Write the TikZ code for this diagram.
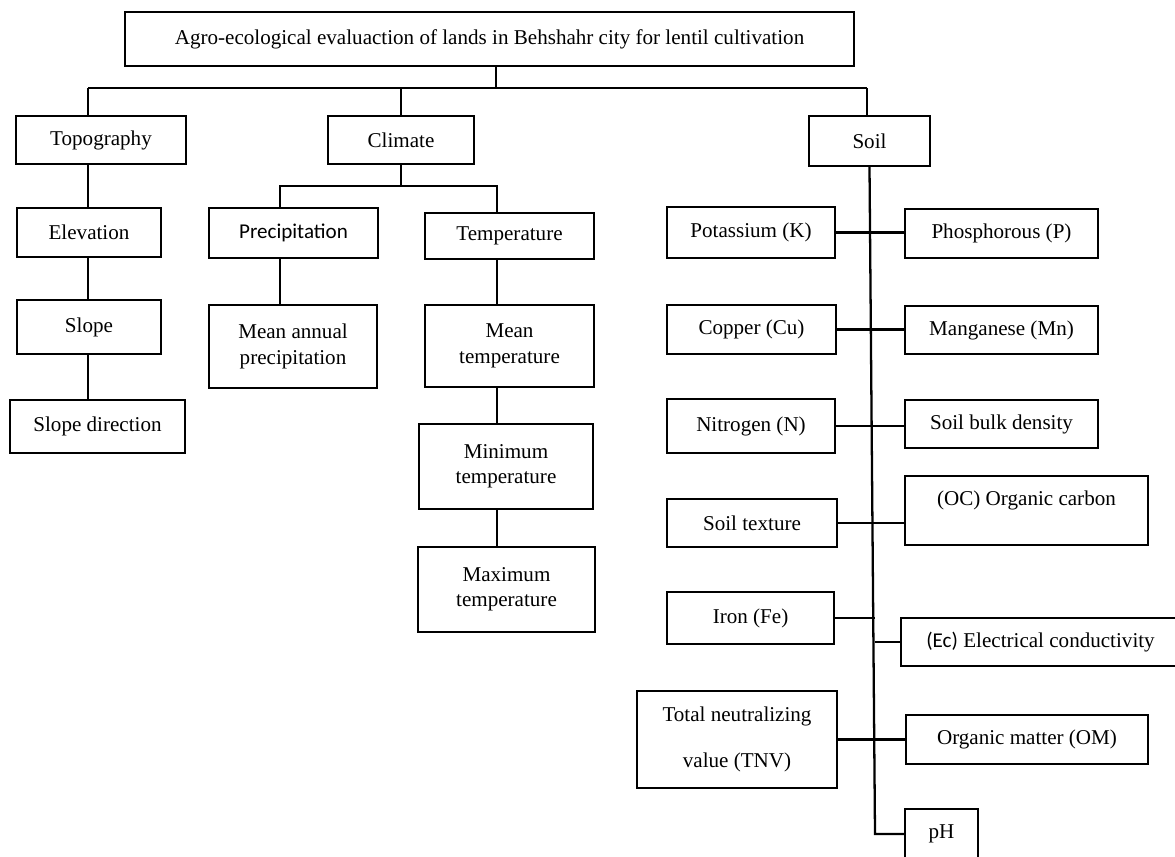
\documentclass[tikz,border=0pt]{standalone}
\usepackage{fontspec}
\setmainfont{Liberation Serif}
\newfontfamily\calibrifont{Carlito}

\begin{document}
\begin{tikzpicture}[x=0.02cm, y=-0.02cm,
    box/.style={draw, rectangle, line width=1.3pt, inner sep=0pt, align=center, font=\fontsize{12}{14.5}\selectfont},
    link/.style={line width=1.3pt}]
    \useasboundingbox (0,0) rectangle (1175,856);

    % Nodes: title and the three main groups
    \node [box, minimum width=14.58cm, minimum height=1.08cm] (title) at (489.5,39) {Agro-ecological evaluaction of lands in Behshahr city for lentil cultivation};
    \node [box, minimum width=3.4cm, minimum height=0.96cm] (topo) at (101,140) {Topography};
    \node [box, minimum width=2.92cm, minimum height=0.96cm] (climate) at (401,140) {Climate};
    \node [box, minimum width=2.42cm, minimum height=1.0cm] (soil) at (869.5,141) {Soil};

    % Topography column
    \node [box, minimum width=2.88cm, minimum height=0.98cm] (elev) at (89,232.5) {Elevation};
    \node [box, minimum width=2.88cm, minimum height=1.08cm] (slope) at (89,327) {Slope};
    \node [box, minimum width=3.5cm, minimum height=1.06cm] (slopedir) at (97.5,426.5) {Slope direction};

    % Climate columns
    \node [box, minimum width=3.38cm, minimum height=1.0cm] (precip) at (293.5,233) {\calibrifont Precipitation};
    \node [box, minimum width=3.38cm, minimum height=0.92cm] (temp) at (509.5,236) {Temperature};
    \node [box, minimum width=3.36cm, minimum height=1.66cm] (meanprec) at (293,346.5) {Mean annual\\precipitation};
    \node [box, minimum width=3.38cm, minimum height=1.64cm] (meantemp) at (509.5,346) {Mean\\temperature};
    \node [box, minimum width=3.48cm, minimum height=1.7cm] (mintemp) at (506,466.5) {Minimum\\temperature};
    \node [box, minimum width=3.54cm, minimum height=1.7cm] (maxtemp) at (506.5,589.5) {Maximum\\temperature};

    % Soil properties, left side
    \node [box, minimum width=3.36cm, minimum height=1.02cm] (potassium) at (751,232.5) {Potassium (K)};
    \node [box, minimum width=3.38cm, minimum height=0.98cm] (copper) at (751.5,329.5) {Copper (Cu)};
    \node [box, minimum width=3.36cm, minimum height=1.08cm] (nitrogen) at (751,426) {Nitrogen (N)};
    \node [box, minimum width=3.4cm, minimum height=0.96cm] (texture) at (752,523) {Soil texture};
    \node [box, minimum width=3.34cm, minimum height=1.04cm] (iron) at (750.5,618) {Iron (Fe)};
    \node [box, minimum width=4.0cm, minimum height=1.94cm] (tnv) at (737,739.5) {Total neutralizing\\[12pt]value (TNV)};

    % Soil properties, right side
    \node [box, minimum width=3.86cm, minimum height=0.98cm] (phos) at (1001.5,233.5) {Phosphorous (P)};
    \node [box, minimum width=3.86cm, minimum height=0.96cm] (mang) at (1001.5,330) {Manganese (Mn)};
    \node [box, minimum width=3.86cm, minimum height=0.96cm] (density) at (1001.5,424) {Soil bulk density};
    \node [box, minimum width=4.86cm, minimum height=1.38cm, align=left] (oc) at (1026.5,510.5) {(OC) Organic carbon\\\mbox{}};
    \node [box, minimum width=5.58cm, minimum height=0.96cm] (ec) at (1040.5,642) {{\calibrifont (Ec)} Electrical conductivity};
    \node [box, minimum width=4.84cm, minimum height=0.98cm] (om) at (1027,739.5) {Organic matter (OM)};
    \node [box, minimum width=1.46cm, minimum height=1.0cm] (ph) at (941.5,834) {pH};

    % Helper points of the buses
    \coordinate (bus) at (496,88);
    \coordinate (topobus) at (88,88);
    \coordinate (soilbus) at (867,88);
    \coordinate (pbus) at (280,186);
    \coordinate (tbus) at (497,186);
    \coordinate (spineend) at (875,834);

    % Main bus
    \draw[link] (title.south -| bus) -- (bus);
    \draw[link] (topobus) -- (soilbus);
    \draw[link] (topobus) -- (topobus |- topo.north);
    \draw[link] (climate.north |- bus) -- (climate.north);
    \draw[link] (soilbus) -- (soilbus |- soil.north);

    % Topography edges
    \draw[link] (topobus |- topo.south) -- (topobus |- elev.north);
    \draw[link] (topobus |- elev.south) -- (topobus |- slope.north);
    \draw[link] (topobus |- slope.south) -- (topobus |- slopedir.north);

    % Climate edges
    \draw[link] (climate.south) -- (climate.south |- pbus);
    \draw[link] (pbus |- precip.north) -- (pbus) -- (tbus) -- (tbus |- temp.north);
    \draw[link] (pbus |- precip.south) -- (pbus |- meanprec.north);
    \draw[link] (tbus |- temp.south) -- (tbus |- meantemp.north);
    \draw[link] (tbus |- meantemp.south) -- (tbus |- mintemp.north);
    \draw[link] (tbus |- mintemp.south) -- (tbus |- maxtemp.north);

    % Soil spine and branches
    \draw[link] (soil.south) -- (spineend) -- (ph.west);
    \draw[link] (potassium.east) -- (potassium.east -| phos.west);
    \draw[link] (copper.east) -- (copper.east -| mang.west);
    \draw[link] (nitrogen.east) -- (nitrogen.east -| density.west);
    \draw[link] (texture.east) -- (texture.east -| oc.west);
    \draw[link] (iron.east) -- (spineend |- iron.east);
    \draw[link] (spineend |- ec.west) -- (ec.west);
    \draw[link] (tnv.east) -- (tnv.east -| om.west);
\end{tikzpicture}
\end{document}
